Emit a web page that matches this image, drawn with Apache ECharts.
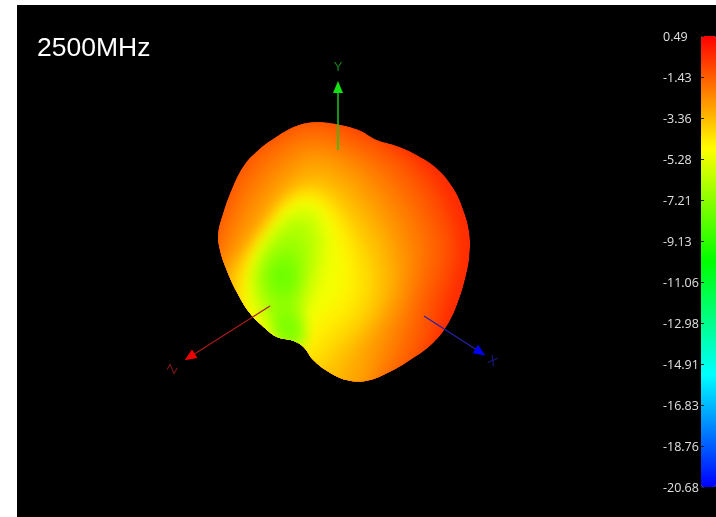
<!DOCTYPE html>
<html><head><meta charset="utf-8">
<style>html,body{margin:0;padding:0;background:#fff}#c{width:716px;height:517px}</style>
<script src="https://cdn.jsdelivr.net/npm/echarts@6/dist/echarts.min.js"></script>
</head><body><div id="c"></div>
<script>
const titleText = '2500MHz';
const colorTicks = ['-20.68','-18.76','-16.83','-14.91','-12.98','-11.06','-9.13','-7.21','-5.28','-3.36','-1.43','0.49'];
const gainMin = -20.68, gainMax = 0.49;
const outline = [[350,37],[420,45],[480,62],[530,90],[590,108],[650,135],[710,175],[760,235],[790,300],[808,370],[808,440],[797,500],[778,565],[748,635],[700,698],[630,750],[570,785],[500,812],[440,810],[385,785],[340,750],[310,710],[280,692],[230,680],[190,650],[150,610],[110,545],[80,480],[60,420],[55,370],[70,310],[95,240],[130,170],[170,125],[230,80],[290,48]];
const c10 = [[340,10],[470,40],[590,110],[690,190],[745,290],[775,400],[760,510],[730,600],[700,700],[640,800],[500,860],[300,860],[60,640],[0,470],[0,370],[40,260],[90,140],[220,40]];
const c15 = [[340,30],[460,70],[570,130],[650,210],[705,310],[735,400],[720,500],[690,590],[665,700],[600,800],[470,860],[300,850],[60,640],[10,480],[30,370],[70,260],[120,160],[230,70]];
const c20 = [[340,70],[450,110],[540,165],[615,245],[660,330],[685,420],[670,510],[645,590],[620,680],[570,790],[470,860],[290,840],[60,640],[30,480],[65,380],[105,280],[155,190],[245,105]];
const c25 = [[340,110],[440,145],[515,200],[575,275],[620,355],[640,440],[630,530],[600,620],[570,700],[530,790],[460,860],[280,830],[60,640],[50,510],[90,400],[135,300],[190,215],[260,145]];
const c30 = [[340,150],[430,185],[490,240],[545,315],[585,400],[600,480],[585,560],[550,640],[510,730],[480,830],[400,860],[200,760],[70,620],[65,520],[115,420],[165,330],[220,245],[280,185]];
const c35 = [[340,200],[415,230],[470,285],[525,360],[555,440],[565,510],[545,590],[495,670],[445,750],[400,840],[300,820],[170,730],[90,620],[85,520],[135,430],[190,350],[240,275],[290,225]];
const c40 = [[335,235],[400,265],[450,325],[495,400],[520,470],[525,530],[500,610],[450,680],[395,740],[340,800],[220,760],[110,630],[110,520],[155,430],[210,350],[255,285],[295,250]];
const c45 = [[330,258],[385,293],[428,350],[460,420],[480,490],[475,560],[440,625],[390,670],[330,740],[220,740],[140,640],[135,510],[165,440],[215,360],[260,295],[295,268]];
const c50 = [[335,272],[385,320],[412,380],[428,440],[432,510],[412,570],[362,620],[320,680],[260,730],[170,680],[140,590],[148,510],[170,440],[220,360],[265,298],[300,275]];
const c55 = [[330,295],[360,335],[378,385],[378,450],[362,520],[332,575],[308,625],[298,695],[235,675],[180,600],[160,520],[175,450],[222,370],[270,320],[305,295]];
const c60 = [[320,315],[348,350],[355,400],[345,460],[328,525],[308,585],[295,640],[295,695],[245,680],[198,610],[170,530],[185,450],[228,380],[270,340]];
const c65 = [[300,335],[328,380],[328,440],[312,500],[296,560],[288,620],[296,695],[250,680],[216,610],[182,530],[194,460],[232,390],[265,350]];
const c70 = [[285,390],[305,440],[295,505],[282,565],[282,625],[292,695],[252,680],[228,610],[198,530],[202,470],[238,410]];
const c75a = [[262,430],[290,480],[280,535],[262,570],[236,560],[208,520],[216,470]];
const c75b = [[272,610],[292,690],[256,680],[236,630],[246,595]];
const c80a = [[252,465],[272,495],[262,530],[238,535],[222,505],[232,472]];
const c80b = [[268,640],[282,685],[258,672],[248,640]];
const contourLevels = [-0.4,-1.0,-1.5,-2.0,-2.5,-3.0,-3.5,-4.0,-4.5,-5.0,-5.5,-6.0,-6.5,-7.0,-7.5,-7.5,-8.0,-8.0];
const contourShapes = [outline,c10,c15,c20,c25,c30,c35,c40,c45,c50,c55,c60,c65,c70,c75a,c75b,c80a,c80b];
const axisY = [[414,120],[414,-69]];
const axisZ = [[210,588],[-31,741]];
const axisX = [[672,618],[841,727]];
const axisYName = [414,-129], axisZName = [-81,778], axisXName = [877,754];

const chart = echarts.init(document.getElementById('c'), null, {renderer:'canvas'});
function arrow(pts, color, head, rot, w){
  return {type:'line', silent:true, z:5, xAxisIndex:0, yAxisIndex:0, showAllSymbol:true, animation:false,
    lineStyle:{color:color,width:w},
    data:[{value:pts[0],symbol:'none'},{value:pts[1],symbol:'triangle',symbolSize:[10,12],symbolRotate:rot,itemStyle:{color:head}}]};
}
function axisName(pos, text, color, rot){
  return {type:'scatter', silent:true, z:6, symbolSize:0, animation:false, data:[pos],
    label:{show:true, position:'inside', formatter:text, color:color, fontSize:13, fontFamily:'Liberation Sans', rotate:rot}};
}
const OFF = 3000;
chart.setOption({
  animation:false,
  backgroundColor:'#fff',
  title:{text:titleText, left:37, top:35, padding:0, textStyle:{color:'#fff',fontSize:26.5,fontWeight:'normal',fontFamily:'Liberation Sans'}},
  grid:[
    {left:17, top:5, right:0, bottom:0, show:true, backgroundColor:'#000', borderWidth:0},
    {left:701, top:36, width:15, height:451, show:false},
    {left:701, top:37, width:15, height:451, show:false}
  ],
  xAxis:[
    {type:'value', gridIndex:0, min:-549, max:1548, show:false},
    {type:'value', gridIndex:1, show:false},
    {type:'value', gridIndex:2, show:false}
  ],
  yAxis:[
    {type:'value', gridIndex:0, min:-315, max:1221, inverse:true, show:false},
    {type:'category', gridIndex:1, data:colorTicks, boundaryGap:false, z:10,
     axisLine:{show:false}, splitLine:{show:false}, axisLabel:{show:false},
     axisTick:{show:true, inside:true, length:3, lineStyle:{color:'#222',width:1}}},
    {type:'category', gridIndex:2, data:colorTicks, boundaryGap:false, z:10,
     axisLine:{show:false}, splitLine:{show:false}, axisTick:{show:false},
     axisLabel:{show:true, interval:0, margin:38, align:'left', color:'#e0e0e0', fontSize:12.5, fontFamily:'Open Sans'}}
  ],
  visualMap:{type:'continuous', min:gainMin, max:gainMax, seriesIndex:0, dimension:0, calculable:false, realtime:false,
    left:701, top:36, itemWidth:15, itemHeight:451, padding:0, showLabel:false, text:null, hoverLink:false,
    inRange:{color:['#0000ff','#00ffff','#00ff00','#ffff00','#ff0000']}},
  series:[
    {type:'custom', coordinateSystem:'cartesian2d', xAxisIndex:0, yAxisIndex:0, silent:true, animation:false, z:2,
     dimensions:['level','shape'], encode:{x:-1,y:-1},
     data:contourLevels.map((l,i)=>[l,i]),
     renderItem:function(params,api){
       const idx = api.value(1);
       const shape = contourShapes[idx];
       const color = api.visual('color');
       const clip = {type:'polygon', shape:{points:outline.map(p=>api.coord(p)), smooth:0.4}};
       if(idx===0){
         return {type:'group', clipPath:clip, children:[{type:'polygon', shape:{points:shape.map(p=>api.coord(p)), smooth:0.4}, style:{fill:color}}]};
       }
       const pts = shape.map(p=>{const q=api.coord(p); return [q[0]-OFF,q[1]];});
       return {type:'group', clipPath:clip,
         children:[{type:'polygon', shape:{points:pts, smooth:0.5},
           style:{fill:color, shadowBlur:16, shadowColor:color, shadowOffsetX:OFF}}]};
     }},
    arrow(axisY,'#1ec81e','#14e014',0,1.5),
    arrow(axisZ,'#a81c1c','#f00000',123,1.2),
    arrow(axisX,'#2424a8','#0000f0',-123,1.2),
    axisName(axisYName,'Y','#1f9f1f',0),
    axisName(axisZName,'Z','#a02020',60),
    axisName(axisXName,'X','#2020a0',-30)
  ]
});
</script></body></html>
